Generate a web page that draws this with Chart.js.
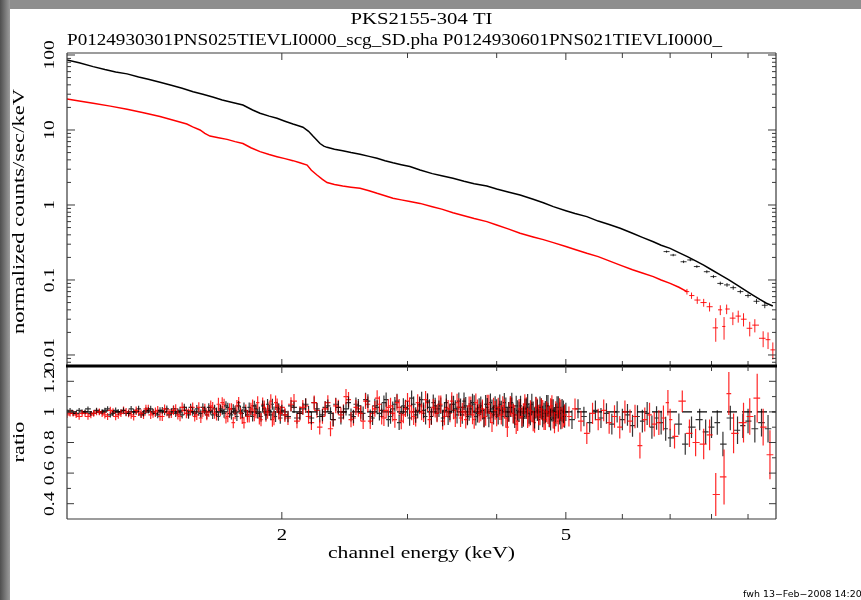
<!DOCTYPE html>
<html><head><meta charset="utf-8">
<script src="https://cdn.jsdelivr.net/npm/chart.js@4.4.1/dist/chart.umd.min.js"></script>
<style>
html,body{margin:0;padding:0;background:#fff;width:861px;height:600px;overflow:hidden}
#topbar{position:absolute;left:0;top:0;width:861px;height:9px;background:#8e8e8e}
#leftbar{position:absolute;left:0;top:0;width:10px;height:600px;background:linear-gradient(to right,#4f4f4f,#9c9c9c)}
canvas{position:absolute;left:0;top:0}
</style></head><body>
<div id="topbar"></div><div id="leftbar"></div>
<canvas id="c1" width="861" height="600"></canvas>
<canvas id="c2" width="861" height="600"></canvas>
<script>
// ---------------- text ----------------
const titleText = 'PKS2155-304 TI';
const subtitleText = 'P0124930301PNS025TIEVLI0000_scg_SD.pha P0124930601PNS021TIEVLI0000_';
const yTitleTop = 'normalized counts/sec/keV';
const yTitleRatio = 'ratio';
const xTitle = 'channel energy (keV)';
const footerText = 'fwh 13\u2212Feb\u22122008 14:20';

// ---------------- axes ----------------
const xMin = 1.0, xMax = 9.85;
const fluxMin = 0.00713, fluxMax = 106.3;
const ratioMin = 0.3, ratioMax = 1.3;
const xTickValues = [2,3,4,5,6,7,8,9];
const xLabelValues = [2,5];
const xLabelTexts = ['2','5'];
const fluxDecades = [0.001,0.01,0.1,1,10,100];
const fluxLabelValues = [100,10,1,0.1,0.01];
const fluxLabelTexts = ['100','10','1','0.1','0.01'];
const ratioTickValues = [0.4,0.5,0.6,0.7,0.8,0.9,1.0,1.1,1.2];
const ratioLabelValues = [1.2,1,0.8,0.6,0.4];
const ratioLabelTexts = ['1.2','1','0.8','0.6','0.4'];

// ---------------- top panel: spectra ----------------
const blackEnergy = [1.00,1.04,1.088,1.13,1.17,1.214,1.26,1.30,1.35,1.40,1.45,1.502,1.55,1.60,1.65,1.70,1.764,1.82,1.864,1.92,1.969,2.02,2.073,2.11,2.141,2.18,2.211,2.24,2.262,2.29,2.314,2.37,2.434,2.50,2.574,2.65,2.719,2.79,2.862,2.94,3.023,3.124,3.25,3.35,3.474,3.60,3.72,3.875,4.0,4.15,4.314,4.5,4.65,4.802,5.0,5.15,5.35,5.55,5.75,5.958,6.2,6.4,6.63,6.8,7.0,7.2,7.4,7.6,7.8,8.0,8.23,8.45,8.68,8.9,9.14,9.35,9.55,9.75];
const blackFlux = [86,79,70,64,59.5,56,51,47.5,43.2,39.5,36,32.4,30,27.5,25.1,23.5,21.5,18.5,16.7,15.3,14.3,13.1,12.0,11.4,10.9,9.6,8.3,7.3,6.6,6.1,5.87,5.55,5.3,5.0,4.75,4.45,4.19,3.9,3.66,3.45,3.25,2.93,2.62,2.45,2.27,2.07,1.92,1.79,1.63,1.49,1.36,1.19,1.07,0.95,0.84,0.77,0.70,0.61,0.55,0.49,0.42,0.37,0.324,0.29,0.264,0.232,0.205,0.18,0.158,0.137,0.117,0.101,0.086,0.074,0.063,0.055,0.049,0.045];
const blackHighEnergy = [6.92,7.07,7.31,7.47,7.63,7.88,8.05,8.23,8.41,8.58,8.78,9.0,9.25,9.5];
const blackHighFlux = [0.239,0.215,0.175,0.185,0.151,0.129,0.111,0.090,0.086,0.079,0.070,0.062,0.052,0.046];
const blackHighErr = [0.008,0.008,0.007,0.007,0.006,0.006,0.005,0.005,0.005,0.005,0.004,0.004,0.004,0.004];

const redEnergy = [1.00,1.04,1.088,1.15,1.214,1.28,1.35,1.41,1.472,1.50,1.536,1.56,1.586,1.63,1.676,1.72,1.764,1.81,1.864,1.92,1.969,2.02,2.073,2.12,2.17,2.20,2.24,2.28,2.314,2.37,2.434,2.50,2.574,2.65,2.719,2.79,2.862,2.94,3.023,3.124,3.25,3.35,3.474,3.60,3.72,3.875,4.0,4.15,4.314,4.5,4.65,4.802,5.0,5.15,5.35,5.55,5.75,5.958,6.2,6.4,6.63,6.8,7.0,7.2,7.39];
const redFlux = [25.9,24.4,22.7,20.8,18.9,17.0,15.1,13.5,12.0,11.0,10.0,9.0,8.3,7.9,7.5,7.0,6.6,5.8,5.14,4.7,4.41,4.15,3.9,3.65,3.41,2.9,2.51,2.2,1.99,1.88,1.79,1.73,1.67,1.55,1.43,1.33,1.23,1.17,1.11,1.05,0.95,0.88,0.79,0.72,0.66,0.60,0.54,0.48,0.42,0.375,0.345,0.315,0.28,0.255,0.227,0.205,0.18,0.158,0.137,0.124,0.111,0.10,0.09,0.08,0.07];
const redHighEnergy = [7.39,7.5,7.64,7.8,7.95,8.11,8.23,8.33,8.4,8.57,8.72,8.87,9.05,9.2,9.45,9.6,9.75];
const redHighFlux = [0.07,0.062,0.054,0.05,0.044,0.023,0.040,0.024,0.041,0.031,0.033,0.030,0.0227,0.025,0.0167,0.016,0.0117];
const redHighErr = [0.006,0.006,0.006,0.006,0.006,0.008,0.006,0.008,0.006,0.006,0.006,0.006,0.005,0.005,0.004,0.004,0.003];

// ---------------- bottom panel: ratio (two interleaved channel groups per instrument) ----------------
const ratioEnergyBlack = [1.00,1.02,1.04,1.06,1.08,1.10,1.12,1.14,1.16,1.18,1.20,1.22,1.24,1.26,1.28,1.30,1.32,1.34,1.36,1.38,1.40,1.42,1.44,1.46,1.48,1.50,1.52,1.54,1.56,1.58,1.60,1.62,1.64,1.66,1.68,1.70,1.72,1.74,1.76,1.78,1.80,1.82,1.84,1.86,1.88,1.90,1.92,1.94,1.96,1.98,
2.00,2.04,2.08,2.12,2.16,2.20,2.24,2.28,2.32,2.36,2.40,2.44,2.48,2.52,2.56,2.60,2.64,2.68,2.72,2.76,2.80,2.84,2.88,2.92,2.96,3.00,3.04,3.08,3.12,3.16,3.20,3.24,3.28,3.32,3.36,3.40,3.44,3.48,3.52,3.56,3.60,3.64,3.68,3.72,3.76,3.80,3.84,3.88,3.92,3.96,4.00,4.04,4.08,4.12,4.16,4.20,4.24,4.28,4.32,4.36,4.40,4.44,4.48,4.52,4.56,4.60,4.64,4.68,4.72,4.76,4.80,4.84,4.88,4.92,4.96,
5.0,5.1,5.2,5.3,5.4,5.5,5.6,5.7,5.8,5.9,6.0,6.1,6.2,6.3,6.4,6.5,6.6,6.7,6.8,6.9,
7.0,7.2,7.35,7.5,7.7,7.85,8.0,8.15,8.3,8.5,8.7,8.85,9.0,9.2,9.4,9.6];
const ratioBlack = [1.00,0.99,1.01,1.00,0.99,1.01,1.00,1.02,0.99,1.00,1.01,0.99,1.00,1.02,0.99,1.01,1.00,0.98,1.01,1.02,1.00,0.99,1.01,1.03,0.98,1.00,1.02,0.99,1.01,1.03,0.98,1.00,1.02,0.99,1.03,0.98,1.01,1.04,0.99,1.00,1.03,0.97,1.02,1.00,1.04,0.98,1.01,1.05,0.97,1.02,
1.01,0.97,1.03,0.99,1.05,0.96,1.02,0.98,1.04,0.95,1.03,1.00,1.06,0.97,1.04,0.99,1.07,0.96,1.03,1.01,1.08,0.97,1.05,0.93,1.04,1.02,1.09,0.98,1.05,1.01,1.07,0.97,1.04,1.02,0.96,1.06,1.00,1.05,0.98,1.03,1.07,0.97,1.02,1.05,0.99,1.04,0.96,1.03,1.06,0.98,1.02,1.05,0.97,1.03,1.00,1.06,0.96,1.01,1.04,0.97,1.02,0.99,1.05,0.96,1.01,1.03,0.97,1.00,1.04,0.95,1.01,0.98,1.03,0.96,1.00,
1.00,0.95,1.02,0.97,0.93,1.01,0.96,0.99,0.92,1.00,0.95,0.98,0.91,0.97,0.94,0.99,0.90,0.96,0.93,0.89,
0.83,0.92,0.79,0.90,0.95,0.87,0.90,0.93,0.79,0.96,0.88,0.91,0.94,0.89,0.93,0.89];
const ratioErrBlack = [0.015,0.015,0.016,0.016,0.016,0.017,0.017,0.017,0.018,0.018,0.018,0.019,0.019,0.020,0.020,0.020,0.021,0.021,0.022,0.022,0.022,0.023,0.023,0.024,0.024,0.025,0.025,0.026,0.026,0.027,0.027,0.028,0.028,0.029,0.029,0.030,0.030,0.031,0.031,0.032,0.032,0.033,0.033,0.034,0.034,0.035,0.035,0.036,0.036,0.037,
0.037,0.038,0.038,0.039,0.039,0.040,0.040,0.041,0.041,0.042,0.042,0.043,0.043,0.044,0.044,0.045,0.045,0.046,0.046,0.047,0.047,0.048,0.048,0.049,0.049,0.050,0.050,0.051,0.051,0.052,0.052,0.053,0.053,0.054,0.054,0.055,0.055,0.056,0.056,0.057,0.057,0.058,0.058,0.059,0.059,0.060,0.060,0.061,0.061,0.062,0.062,0.063,0.063,0.064,0.064,0.065,0.065,0.066,0.066,0.067,0.067,0.068,0.068,0.069,0.069,0.070,0.070,0.071,0.071,0.072,0.072,0.073,0.073,0.074,0.074,
0.060,0.061,0.062,0.063,0.064,0.065,0.066,0.067,0.068,0.069,0.070,0.071,0.072,0.073,0.074,0.075,0.076,0.077,0.078,0.079,
0.06,0.07,0.07,0.07,0.07,0.08,0.07,0.08,0.08,0.08,0.09,0.08,0.08,0.09,0.09,0.09];

const ratioEnergyBlack2 = [1.01,1.03,1.05,1.07,1.09,1.11,1.13,1.15,1.17,1.19,1.21,1.23,1.25,1.27,1.29,1.31,1.33,1.35,1.37,1.39,1.41,1.43,1.45,1.47,1.49,1.51,1.53,1.55,1.57,1.59,1.61,1.63,1.65,1.67,1.69,1.71,1.73,1.75,1.77,1.79,1.81,1.83,1.85,1.87,1.89,1.91,1.93,1.95,1.97,1.99,
2.02,2.06,2.10,2.14,2.18,2.22,2.26,2.30,2.34,2.38,2.42,2.46,2.50,2.54,2.58,2.62,2.66,2.70,2.74,2.78,2.82,2.86,2.90,2.94,2.98,3.02,3.06,3.10,3.14,3.18,3.22,3.26,3.30,3.34,3.38,3.42,3.46,3.50,3.54,3.58,3.62,3.66,3.70,3.74,3.78,3.82,3.86,3.90,3.94,3.98,4.02,4.06,4.10,4.14,4.18,4.22,4.26,4.30,4.34,4.38,4.42,4.46,4.50,4.54,4.58,4.62,4.66,4.70,4.74,4.78,4.82,4.86,4.90,4.94,4.98];
const ratioBlack2 = [1.01,0.99,1.00,1.02,0.99,1.00,1.01,0.98,1.01,1.00,0.99,1.02,1.00,0.98,1.01,1.02,0.99,1.01,1.00,0.98,1.02,1.00,0.98,1.01,1.03,0.99,1.00,1.03,0.98,1.01,1.02,0.97,1.01,1.04,0.99,1.02,0.97,1.01,1.03,0.98,1.00,1.04,0.99,0.97,1.02,1.05,0.98,1.00,1.03,0.96,
0.98,1.04,0.96,1.02,1.00,1.06,0.97,1.03,0.99,1.05,0.96,1.02,0.98,1.05,1.00,1.08,0.97,1.04,0.99,1.06,0.95,1.02,1.07,0.99,1.03,0.96,1.05,1.01,1.08,0.97,1.03,1.06,0.99,1.04,1.01,0.97,1.05,1.02,1.07,0.98,1.04,1.00,1.06,0.97,1.03,1.01,1.05,0.96,1.02,1.04,0.98,1.01,1.06,0.97,1.03,0.99,1.04,1.00,0.96,1.02,1.05,0.98,1.00,1.03,0.95,1.02,0.99,1.04,0.97,1.01,0.96,1.03,0.99,1.01,0.97];
const ratioErrBlack2 = [0.015,0.015,0.016,0.016,0.016,0.017,0.017,0.017,0.018,0.018,0.018,0.019,0.019,0.020,0.020,0.020,0.021,0.021,0.022,0.022,0.022,0.023,0.023,0.024,0.024,0.025,0.025,0.026,0.026,0.027,0.027,0.028,0.028,0.029,0.029,0.030,0.030,0.031,0.031,0.032,0.032,0.033,0.033,0.034,0.034,0.035,0.035,0.036,0.036,0.037,
0.037,0.038,0.038,0.039,0.039,0.040,0.040,0.041,0.041,0.042,0.042,0.043,0.043,0.044,0.044,0.045,0.045,0.046,0.046,0.047,0.047,0.048,0.048,0.049,0.049,0.050,0.050,0.051,0.051,0.052,0.052,0.053,0.053,0.054,0.054,0.055,0.055,0.056,0.056,0.057,0.057,0.058,0.058,0.059,0.059,0.060,0.060,0.061,0.061,0.062,0.062,0.063,0.063,0.064,0.064,0.065,0.065,0.066,0.066,0.067,0.067,0.068,0.068,0.069,0.069,0.070,0.070,0.071,0.071,0.072,0.072,0.073,0.073,0.074,0.074];

const ratioEnergyRed = [1.01,1.03,1.05,1.07,1.09,1.11,1.13,1.15,1.17,1.19,1.21,1.23,1.25,1.27,1.29,1.31,1.33,1.35,1.37,1.39,1.41,1.43,1.45,1.47,1.49,1.51,1.53,1.55,1.57,1.59,1.61,1.63,1.65,1.67,1.69,1.71,1.73,1.75,1.77,1.79,1.81,1.83,1.85,1.87,1.89,1.91,1.93,1.95,1.97,1.99,
2.02,2.06,2.10,2.14,2.18,2.22,2.26,2.30,2.34,2.38,2.42,2.46,2.50,2.54,2.58,2.62,2.66,2.70,2.74,2.78,2.82,2.86,2.90,2.94,2.98,3.02,3.06,3.10,3.14,3.18,3.22,3.26,3.30,3.34,3.38,3.42,3.46,3.50,3.54,3.58,3.62,3.66,3.70,3.74,3.78,3.82,3.86,3.90,3.94,3.98,4.02,4.06,4.10,4.14,4.18,4.22,4.26,4.30,4.34,4.38,4.42,4.46,4.50,4.54,4.58,4.62,4.66,4.70,4.74,4.78,4.82,4.86,4.90,4.94,4.98,
5.05,5.15,5.25,5.35,5.45,5.55,5.65,5.75,5.85,5.95,6.05,6.15,6.25,6.35,6.45,6.55,6.65,6.75,6.85,6.95,
7.0,7.1,7.28,7.45,7.6,7.8,7.95,8.11,8.33,8.46,8.59,8.87,9.05,9.27,9.45,9.66];
const ratioRed = [0.99,0.98,0.99,0.97,0.99,1.00,0.98,1.01,0.97,0.99,1.00,0.98,1.01,0.99,1.02,0.98,1.00,0.97,1.02,0.99,1.01,0.98,1.03,0.99,1.01,0.97,1.03,1.00,0.98,1.04,0.99,1.05,1.06,0.96,1.02,0.93,1.04,0.99,0.93,0.97,1.02,0.98,1.06,0.95,1.03,1.00,1.07,0.96,1.04,0.99,
0.98,1.05,0.94,1.03,0.97,1.06,0.90,1.02,0.89,1.04,0.98,1.10,0.95,1.03,0.99,1.07,0.94,1.02,1.05,0.96,1.03,0.99,1.06,0.94,1.02,1.04,0.97,1.06,1.00,1.08,0.95,1.03,0.99,1.05,0.97,1.02,1.07,0.96,1.03,1.00,0.95,1.04,0.98,1.06,0.99,1.02,0.97,1.05,0.93,1.01,1.03,0.98,1.02,0.90,1.04,0.99,0.92,1.02,0.97,1.05,0.96,1.01,0.94,1.03,0.98,1.02,0.95,1.00,0.97,1.04,0.93,0.99,1.02,0.96,0.98,
0.97,1.02,0.94,0.86,0.99,0.95,1.01,0.93,0.97,0.90,1.00,0.94,0.97,0.78,0.95,0.98,0.92,0.93,0.96,1.06,
0.95,0.84,1.07,0.86,0.80,0.79,0.85,0.46,0.575,1.12,0.86,0.93,0.97,1.09,0.90,0.72];
const ratioErrRed = [0.020,0.020,0.021,0.021,0.022,0.022,0.023,0.023,0.024,0.024,0.025,0.025,0.026,0.026,0.027,0.027,0.028,0.028,0.029,0.029,0.030,0.030,0.031,0.031,0.032,0.032,0.033,0.033,0.034,0.034,0.035,0.042,0.036,0.036,0.037,0.037,0.038,0.038,0.039,0.039,0.040,0.041,0.042,0.043,0.044,0.045,0.046,0.047,0.048,0.049,
0.046,0.046,0.047,0.047,0.047,0.048,0.048,0.048,0.049,0.049,0.049,0.050,0.050,0.050,0.051,0.051,0.051,0.052,0.052,0.052,0.053,0.053,0.053,0.054,0.054,0.054,0.055,0.055,0.055,0.056,0.056,0.056,0.057,0.057,0.057,0.058,0.058,0.058,0.059,0.059,0.059,0.060,0.060,0.060,0.061,0.061,0.061,0.062,0.062,0.062,0.063,0.063,0.063,0.064,0.064,0.064,0.065,0.065,0.065,0.066,0.066,0.066,0.067,0.067,0.067,0.068,0.068,0.068,0.069,0.069,0.069,0.070,0.070,0.070,0.070,
0.066,0.067,0.068,0.070,0.069,0.070,0.071,0.072,0.073,0.074,0.075,0.076,0.077,0.085,0.078,0.079,0.080,0.081,0.082,0.083,
0.07,0.08,0.07,0.09,0.09,0.10,0.10,0.14,0.18,0.14,0.13,0.13,0.12,0.16,0.12,0.16];

const ratioEnergyRed2 = [1.00,1.02,1.04,1.06,1.08,1.10,1.12,1.14,1.16,1.18,1.20,1.22,1.24,1.26,1.28,1.30,1.32,1.34,1.36,1.38,1.40,1.42,1.44,1.46,1.48,1.50,1.52,1.54,1.56,1.58,1.60,1.62,1.64,1.66,1.68,1.70,1.72,1.74,1.76,1.78,1.80,1.82,1.84,1.86,1.88,1.90,1.92,1.94,1.96,1.98,
2.00,2.04,2.08,2.12,2.16,2.20,2.24,2.28,2.32,2.36,2.40,2.44,2.48,2.52,2.56,2.60,2.64,2.68,2.72,2.76,2.80,2.84,2.88,2.92,2.96,3.00,3.04,3.08,3.12,3.16,3.20,3.24,3.28,3.32,3.36,3.40,3.44,3.48,3.52,3.56,3.60,3.64,3.68,3.72,3.76,3.80,3.84,3.88,3.92,3.96,4.00,4.04,4.08,4.12,4.16,4.20,4.24,4.28,4.32,4.36,4.40,4.44,4.48,4.52,4.56,4.60,4.64,4.68,4.72,4.76,4.80,4.84,4.88,4.92,4.96];
const ratioRed2 = [0.98,0.99,0.97,0.99,0.98,1.00,0.99,0.97,1.00,0.98,1.01,0.99,0.97,1.00,0.98,1.02,0.99,1.01,0.97,1.00,0.99,1.02,0.97,1.01,0.99,1.03,0.98,0.96,1.02,1.00,1.03,0.98,1.01,1.05,0.97,1.02,0.99,1.06,0.96,1.01,0.97,1.04,1.00,0.96,1.05,0.98,1.02,0.95,1.06,1.00,
1.03,0.96,1.07,0.99,1.04,0.93,1.01,0.97,1.06,0.95,1.03,1.00,1.08,0.96,1.02,0.94,1.05,0.99,1.09,0.97,1.01,1.04,0.95,1.03,0.98,1.07,1.00,0.96,1.04,0.99,1.06,0.97,1.02,1.05,0.94,1.03,0.99,1.01,1.06,0.96,1.03,0.98,1.04,0.95,1.02,1.00,0.96,1.05,0.99,1.03,0.97,1.01,1.04,0.96,1.00,1.03,0.98,0.94,1.02,0.99,1.03,0.97,1.00,0.93,1.02,0.98,1.01,0.95,0.99,1.02,0.96,1.00,0.94,1.01,0.97];
const ratioErrRed2 = [0.020,0.020,0.021,0.021,0.022,0.022,0.023,0.023,0.024,0.024,0.025,0.025,0.026,0.026,0.027,0.027,0.028,0.028,0.029,0.029,0.030,0.030,0.031,0.031,0.032,0.032,0.033,0.033,0.034,0.034,0.035,0.036,0.036,0.036,0.037,0.037,0.038,0.038,0.039,0.039,0.040,0.041,0.042,0.043,0.044,0.045,0.046,0.047,0.048,0.049,
0.046,0.046,0.047,0.047,0.047,0.048,0.048,0.048,0.049,0.049,0.049,0.050,0.050,0.050,0.051,0.051,0.051,0.052,0.052,0.052,0.053,0.053,0.053,0.054,0.054,0.054,0.055,0.055,0.055,0.056,0.056,0.056,0.057,0.057,0.057,0.058,0.058,0.058,0.059,0.059,0.059,0.060,0.060,0.060,0.061,0.061,0.061,0.062,0.062,0.062,0.063,0.063,0.063,0.064,0.064,0.064,0.065,0.065,0.065,0.066,0.066,0.066,0.067,0.067,0.067,0.068,0.068,0.068,0.069,0.069,0.069,0.070,0.070,0.070,0.070];

const ratioModelEnergy = [1.0, 9.85];
const ratioModel = [1, 1];

// ---------------- helpers ----------------
const BLACK = '#000000', RED = '#ff0000';
const pts = (xs, ys) => xs.map((x, i) => ({x, y: ys[i]}));
const FONT = '"Liberation Serif", "DejaVu Serif", serif';

function txt(ctx, s, x, y, o) {
  ctx.save();
  ctx.font = (o.size || 16) + 'px ' + (o.family || FONT);
  ctx.fillStyle = o.color || '#000';
  ctx.textBaseline = o.baseline || 'alphabetic';
  ctx.textAlign = o.align || 'center';
  ctx.translate(x, y);
  if (o.rot) ctx.rotate(-Math.PI / 2);
  let sx = o.sx || 1;
  if (o.width) sx = o.width / ctx.measureText(s).width;
  ctx.scale(sx, 1);
  ctx.fillText(s, 0, 0);
  ctx.restore();
}
function line(ctx, x1, y1, x2, y2) { ctx.moveTo(x1, y1); ctx.lineTo(x2, y2); }

const errBars = {
  id: 'errBars',
  afterDatasetsDraw(chart) {
    const {ctx, chartArea: a} = chart;
    ctx.save();
    ctx.beginPath(); ctx.rect(a.left, a.top, a.right - a.left, a.bottom - a.top); ctx.clip();
    chart.data.datasets.forEach((ds, i) => {
      if (!ds.errors) return;
      const meta = chart.getDatasetMeta(i);
      const ys = chart.scales[meta.yAxisID];
      const el = meta.data;
      ctx.strokeStyle = ds.crossColor; ctx.lineWidth = ds.crossWidth || 1;
      ctx.beginPath();
      for (let j = 0; j < el.length; j++) {
        const p = el[j], v = ds.data[j].y, e = ds.errors[j];
        const prev = j > 0 ? el[j - 1].x : null, next = j < el.length - 1 ? el[j + 1].x : null;
        let hl = prev !== null ? (p.x - prev) / 2 : (next - p.x) / 2;
        let hr = next !== null ? (next - p.x) / 2 : hl;
        hl = Math.min(hl, ds.maxHalf || 6); hr = Math.min(hr, ds.maxHalf || 6);
        const lo = Math.max(v - e, ys.min * 0.2);
        line(ctx, p.x, ys.getPixelForValue(v + e), p.x, ys.getPixelForValue(lo));
        line(ctx, p.x - hl, p.y, p.x + hr, p.y);
      }
      ctx.stroke();
    });
    ctx.restore();
  }
};

function xTicks(ctx, chart, a, top, bottom) {
  const x = chart.scales.x;
  ctx.beginPath();
  xTickValues.forEach(v => {
    const px = x.getPixelForValue(v);
    const len = xLabelValues.includes(v) ? 7 : 5;
    if (top) line(ctx, px, a.top, px, a.top + len);
    if (bottom) line(ctx, px, a.bottom, px, a.bottom - len);
  });
  ctx.stroke();
}

const topDecor = {
  id: 'topDecor',
  afterDraw(chart) {
    const {ctx, chartArea: a} = chart;
    const y = chart.scales.y;
    ctx.save();
    ctx.strokeStyle = '#3a3a3a'; ctx.lineWidth = 1.2;
    ctx.beginPath();
    line(ctx, a.left, a.bottom, a.left, a.top); line(ctx, a.left, a.top, a.right, a.top); line(ctx, a.right, a.top, a.right, a.bottom);
    ctx.stroke();
    ctx.lineWidth = 1;
    ctx.beginPath();
    fluxDecades.forEach(d => {
      for (let m = 1; m <= 9; m++) {
        const v = d * m;
        if (v < y.min || v > y.max) continue;
        const py = y.getPixelForValue(v);
        const len = m === 1 ? 8 : 4;
        line(ctx, a.left, py, a.left + len, py);
        line(ctx, a.right, py, a.right - len, py);
      }
    });
    ctx.stroke();
    xTicks(ctx, chart, a, true, true);
    txt(ctx, titleText, (a.left + a.right) / 2, 24, {size: 16, width: 142});
    txt(ctx, subtitleText, a.left, 45, {size: 16, width: 655, align: 'left'});
    txt(ctx, yTitleTop, 20, (a.top + a.bottom) / 2 + 2, {size: 16, rot: true, baseline: 'middle', width: 245});
    fluxLabelValues.forEach((v, i) => {
      txt(ctx, fluxLabelTexts[i], 50, y.getPixelForValue(v), {size: 15, rot: true, baseline: 'middle', sx: 1.3});
    });
    ctx.restore();
  }
};

const bottomDecor = {
  id: 'bottomDecor',
  afterDraw(chart) {
    const {ctx, chartArea: a} = chart;
    const y = chart.scales.y, x = chart.scales.x;
    ctx.save();
    ctx.strokeStyle = '#3a3a3a'; ctx.lineWidth = 1.2;
    ctx.beginPath();
    line(ctx, a.left, a.top, a.left, a.bottom); line(ctx, a.left, a.bottom, a.right, a.bottom); line(ctx, a.right, a.bottom, a.right, a.top);
    ctx.stroke();
    ctx.strokeStyle = '#000'; ctx.lineWidth = 3;
    ctx.beginPath(); line(ctx, a.left - 1, a.top, a.right + 1, a.top); ctx.stroke();
    ctx.strokeStyle = '#3a3a3a'; ctx.lineWidth = 1;
    ctx.beginPath();
    ratioTickValues.forEach(v => {
      const py = y.getPixelForValue(v);
      const len = ratioLabelValues.some(t => Math.abs(t - v) < 1e-6) ? 7 : 4;
      line(ctx, a.left, py, a.left + len, py);
      line(ctx, a.right, py, a.right - len, py);
    });
    ctx.stroke();
    xTicks(ctx, chart, a, true, true);
    ratioLabelValues.forEach((v, i) => {
      txt(ctx, ratioLabelTexts[i], 50, y.getPixelForValue(v), {size: 15, rot: true, baseline: 'middle', sx: 1.3});
    });
    txt(ctx, yTitleRatio, 20, 442, {size: 16, rot: true, baseline: 'middle', width: 41});
    xLabelValues.forEach((v, i) => {
      txt(ctx, xLabelTexts[i], x.getPixelForValue(v), 540, {size: 16, sx: 1.3});
    });
    txt(ctx, xTitle, (a.left + a.right) / 2, 558, {size: 16, width: 187});
    txt(ctx, footerText, 743, 597, {size: 9, align: 'left', family: '"DejaVu Sans", sans-serif', sx: 1.05});
    ctx.restore();
  }
};

const common = (padding, yScale) => ({
  responsive: false, animation: false, events: [],
  layout: {padding},
  plugins: {legend: {display: false}, title: {display: false}, tooltip: {enabled: false}},
  scales: {x: {type: 'logarithmic', min: xMin, max: xMax, display: false}, y: yScale}
});

new Chart(document.getElementById('c1'), {
  type: 'line',
  data: {datasets: [
    {data: pts(blackEnergy, blackFlux), borderColor: BLACK, borderWidth: 1.5, pointRadius: 0, tension: 0},
    {data: pts(redEnergy, redFlux), borderColor: RED, borderWidth: 1.5, pointRadius: 0, tension: 0},
    {data: pts(blackHighEnergy, blackHighFlux), errors: blackHighErr, crossColor: 'rgba(0,0,0,0.8)', showLine: false, pointRadius: 0, borderColor: BLACK, maxHalf: 3},
    {data: pts(redHighEnergy, redHighFlux), errors: redHighErr, crossColor: 'rgba(255,0,0,0.9)', showLine: false, pointRadius: 0, borderColor: RED, maxHalf: 5}
  ]},
  options: common({left: 67, right: 85, top: 53, bottom: 234}, {type: 'logarithmic', min: fluxMin, max: fluxMax, display: false}),
  plugins: [errBars, topDecor]
});

const ratioStyle = (color, w) => ({crossColor: color, crossWidth: w, showLine: false, pointRadius: 0, maxHalf: 5});
new Chart(document.getElementById('c2'), {
  type: 'line',
  data: {datasets: [
    {data: pts(ratioModelEnergy, ratioModel), borderColor: BLACK, borderWidth: 1.2, borderDash: [10, 5], pointRadius: 0},
    Object.assign({data: pts(ratioEnergyRed2, ratioRed2), errors: ratioErrRed2, borderColor: RED}, ratioStyle('rgba(255,0,0,0.85)', 1.2)),
    Object.assign({data: pts(ratioEnergyBlack, ratioBlack), errors: ratioErrBlack, borderColor: BLACK}, ratioStyle('rgba(0,0,0,0.8)', 1.2)),
    Object.assign({data: pts(ratioEnergyBlack2, ratioBlack2), errors: ratioErrBlack2, borderColor: BLACK}, ratioStyle('rgba(0,0,0,0.8)', 1.2)),
    Object.assign({data: pts(ratioEnergyRed, ratioRed), errors: ratioErrRed, borderColor: RED}, ratioStyle('rgba(255,0,0,0.85)', 1.2))
  ]},
  options: common({left: 67, right: 85, top: 366, bottom: 81}, {type: 'linear', min: ratioMin, max: ratioMax, display: false}),
  plugins: [errBars, bottomDecor]
});
</script>
</body></html>
